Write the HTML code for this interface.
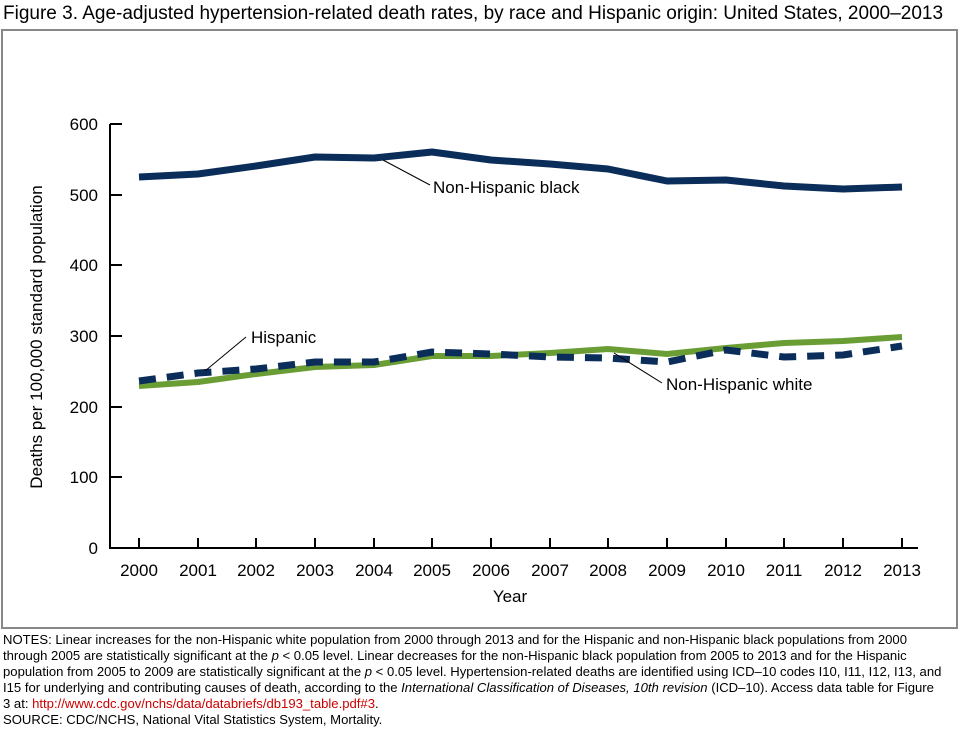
<!DOCTYPE html>
<html><head><style>
body{margin:0;width:960px;height:732px;background:#fff;font-family:"Liberation Sans",sans-serif;position:relative;overflow:hidden}
.t{position:absolute;left:3px;top:3px;font-size:19px;color:#000;white-space:nowrap}
.n{position:absolute;left:3px;top:632px;font-size:13.1px;line-height:16px;color:#000;white-space:nowrap}
a{color:#c00;text-decoration:none}
</style></head><body>
<div class="t">Figure 3. Age-adjusted hypertension-related death rates, by race and Hispanic origin: United States, 2000–2013</div>
<svg width="960" height="732" style="position:absolute;left:0;top:0">
<rect x="2" y="30" width="955" height="598" fill="none" stroke="#888" stroke-width="2"/>
<g font-family="Liberation Sans" font-size="17" fill="#000">
<path d="M110 124V548H918" fill="none" stroke="#000" stroke-width="2"/>
<g stroke="#000" stroke-width="2">
<line x1="110" y1="124" x2="122" y2="124"/><line x1="110" y1="195" x2="122" y2="195"/><line x1="110" y1="265" x2="122" y2="265"/><line x1="110" y1="336" x2="122" y2="336"/><line x1="110" y1="407" x2="122" y2="407"/><line x1="110" y1="477" x2="122" y2="477"/>
</g>
<g text-anchor="end"><text x="98" y="130">600</text><text x="98" y="201">500</text><text x="98" y="271">400</text><text x="98" y="342">300</text><text x="98" y="413">200</text><text x="98" y="483">100</text><text x="98" y="554">0</text></g>
<text x="510" y="602" text-anchor="middle">Year</text>
<text transform="translate(42,337) rotate(-90)" text-anchor="middle">Deaths per 100,000 standard population</text>
<polyline fill="none" stroke="#6a9e35" stroke-width="6" stroke-linejoin="round" points="139,386 198,382 256,374 315,367 374,365 432,356 491,356 550,353 608,349 667,354 726,348 784,343 843,341 902,337"/>
<polyline fill="none" stroke="#0b2d5a" stroke-width="7" stroke-dasharray="17,11" points="139,381 198,373 256,369 315,362 374,362 432,352 491,354 550,357 608,358 667,362 726,350 784,357 843,355 902,346"/>
<polyline fill="none" stroke="#0b2d5a" stroke-width="7" stroke-linejoin="round" points="139,177 198,174 256,166 315,157 374,158 432,152 491,160 550,164 608,169 667,181 726,180 784,186 843,189 902,187"/>
<g stroke="#000" stroke-width="1"><line x1="383" y1="160" x2="430" y2="185"/><line x1="246" y1="337" x2="205" y2="371"/><line x1="614" y1="353" x2="662" y2="383"/></g>
<text x="433" y="193">Non-Hispanic black</text>
<text x="251" y="343">Hispanic</text>
<text x="666" y="390">Non-Hispanic white</text>
</g>
<g stroke="#000" stroke-width="2">
<line x1="139" y1="538" x2="139" y2="548"/><line x1="198" y1="538" x2="198" y2="548"/><line x1="256" y1="538" x2="256" y2="548"/><line x1="315" y1="538" x2="315" y2="548"/><line x1="374" y1="538" x2="374" y2="548"/><line x1="432" y1="538" x2="432" y2="548"/><line x1="491" y1="538" x2="491" y2="548"/><line x1="550" y1="538" x2="550" y2="548"/><line x1="608" y1="538" x2="608" y2="548"/><line x1="667" y1="538" x2="667" y2="548"/><line x1="726" y1="538" x2="726" y2="548"/><line x1="784" y1="538" x2="784" y2="548"/><line x1="843" y1="538" x2="843" y2="548"/><line x1="902" y1="538" x2="902" y2="548"/>
</g>
<g font-family="Liberation Sans" font-size="17" text-anchor="middle">
<text x="139" y="576">2000</text><text x="198" y="576">2001</text><text x="256" y="576">2002</text><text x="315" y="576">2003</text><text x="374" y="576">2004</text><text x="432" y="576">2005</text><text x="491" y="576">2006</text><text x="550" y="576">2007</text><text x="608" y="576">2008</text><text x="667" y="576">2009</text><text x="726" y="576">2010</text><text x="784" y="576">2011</text><text x="843" y="576">2012</text><text x="902" y="576">2013</text>
</g>
</svg>
<div class="n">NOTES: Linear increases for the non-Hispanic white population from 2000 through 2013 and for the Hispanic and non-Hispanic black populations from 2000<br>through 2005 are statistically significant at the <i>p</i> &lt; 0.05 level. Linear decreases for the non-Hispanic black population from 2005 to 2013 and for the Hispanic<br>population from 2005 to 2009 are statistically significant at the <i>p</i> &lt; 0.05 level. Hypertension-related deaths are identified using ICD–10 codes I10, I11, I12, I13, and<br>I15 for underlying and contributing causes of death, according to the <i>International Classification of Diseases, 10th revision</i> (ICD–10). Access data table for Figure<br>3 at: <a>http://www.cdc.gov/nchs/data/databriefs/db193_table.pdf#3</a>.<br>SOURCE: CDC/NCHS, National Vital Statistics System, Mortality.</div>
</body></html>
